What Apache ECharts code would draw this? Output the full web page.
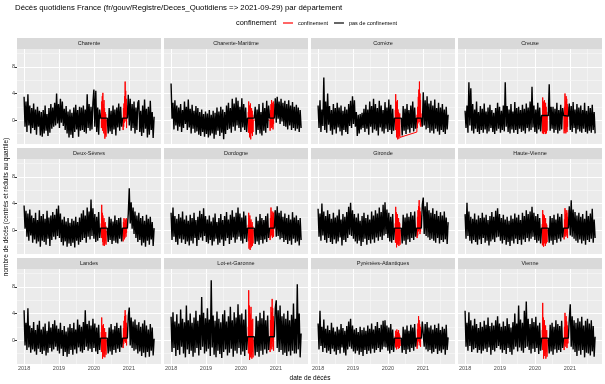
<!DOCTYPE html>
<html><head><meta charset="utf-8">
<script src="https://cdn.jsdelivr.net/npm/echarts@6/dist/echarts.min.js"></script>
<style>html,body{margin:0;padding:0;background:#fff}#c{width:605px;height:384px}</style>
</head><body><div id="c"></div>
<script>
const departments = ['Charente','Charente-Maritime','Corrèze','Creuse','Deux-Sèvres','Dordogne','Gironde','Haute-Vienne','Landes','Lot-et-Garonne','Pyrénées-Atlantiques','Vienne'];
const startDate = '2018-01-01';
const stepDays = 10;          // sampling step outside the lockdowns
const confStepDays = 3;       // sampling step inside the lockdowns
const nSteps = 137;
const confinementPeriods = [['2020-03-17','2020-05-11'],['2020-10-30','2020-12-15']];
const xLimits = ['2017-10-19','2021-12-03'];
const yearTicks = ['2018-01-01','2019-01-01','2020-01-01','2021-01-01'];
const yearMinor = ['2018-07-02','2019-07-02','2020-07-02','2021-07-02'];
const yLimits = [-3.6, 10.7];
const yMajor = [0,4,8];
const yMinor = [-2,2,6,10];

// ---- values outside the lockdowns (every 10 days, lockdown dates skipped) ----
const charente = [
3.5,-1.0,2.8,-1.8,3.9,-0.8,2.2,-2.0,1.8,-1.2,
2.5,-1.5,1.6,-2.2,2.0,-1.0,1.4,-2.3,1.2,-2.5,
1.5,-2.0,2.2,-1.6,0.9,-2.4,1.8,-1.9,2.4,-1.3,
1.9,-1.0,2.6,-0.8,4.0,-0.5,2.4,-1.2,3.2,-0.4,
2.8,-0.9,1.7,-1.5,2.1,-2.0,1.3,-2.6,1.6,-2.2,
1.1,-2.7,1.9,-1.8,2.3,-1.4,1.5,-2.5,2.0,-1.6,
1.9,-1.5,2.2,-1.8,1.6,-2.0,3.9,-1.2,2.4,-1.6,
2.0,-1.4,2.6,4.6,-1.0,4.4,-1.8,1.9,-2.2,1.6,
0.3,
0.3,-2.0,1.8,
-1.7,1.4,-2.1,2.2,-1.4,1.6,-2.3,1.9,-1.1,2.5,
-1.6,2.0,-1.0,0.3,
0.3,3.8,
-0.8,3.2,-1.6,2.4,-1.2,2.8,-2.0,1.9,-1.5,2.6,
3.0,-1.8,1.4,-2.4,2.2,-1.9,3.1,-1.3,1.7,-2.6,
2.0,-2.2,2.9,-1.5,1.2,-2.7,0.5];

const charenteMaritime = [
5.5,0.2,2.6,-1.4,3.0,-0.8,2.2,-1.6,1.9,-1.0,
2.4,-1.8,1.5,-1.2,2.8,-0.6,2.0,-1.5,3.1,-1.1,
1.7,-2.0,2.3,-1.3,1.4,-1.9,2.1,-1.7,1.8,-2.2,
1.2,-2.4,1.6,-1.8,0.9,-2.5,1.3,-2.1,1.0,-2.6,
1.5,-2.3,0.8,-2.0,1.4,-2.8,1.1,-2.2,1.9,-1.6,
1.3,-2.4,2.0,-1.9,1.6,-2.9,1.2,-2.1,2.2,-1.5,
2.6,-1.3,1.8,-1.9,3.2,-1.0,2.5,-1.6,3.4,-0.8,
2.9,-1.2,2.0,-1.8,3.3,-1.1,2.4,-1.5,1.9,-1.8,
0.3,
0.3,2.0,-2.2,
1.6,-1.5,2.4,-2.0,1.2,-2.3,2.6,-1.6,1.8,-1.9,
2.9,-1.2,2.2,0.3,
0.3,3.3,
-0.4,3.5,0.2,2.8,-0.6,3.2,-0.2,2.6,-0.9,2.9,
-1.0,2.4,-1.4,3.0,-0.8,2.2,-1.5,2.7,-1.2,2.0,
-1.6,2.3,-1.3,1.9,-1.8,1.5,-1.2];

const correze = [
2.2,-1.2,3.0,-1.8,1.6,-0.9,6.4,-1.5,2.8,-1.9,
4.0,-0.7,2.1,-1.6,1.5,-2.2,2.4,-1.4,1.8,-2.0,
2.6,-1.1,1.9,-1.7,2.2,-2.3,1.4,-1.5,2.0,-1.8,
1.6,-2.1,2.4,-0.9,2.9,-1.2,3.6,-0.6,3.0,-1.0,
1.2,-2.4,0.8,-2.0,0.9,-1.4,1.1,-1.2,1.7,-1.8,
2.3,-1.3,1.6,-2.2,2.8,-1.0,2.1,-1.9,3.2,-1.4,
2.4,-1.6,1.8,-2.3,2.9,-1.1,2.2,-1.7,1.5,-2.0,
2.7,-1.3,1.9,-1.8,3.1,-1.5,2.3,-2.1,1.7,-1.6,
0.3,
0.3,-2.3,2.1,
-1.6,1.7,-2.1,2.4,-1.4,1.5,-1.9,2.2,-1.2,2.8,
-1.7,1.9,-1.3,0.3,
0.3,-1.0,
4.2,-0.8,3.0,-1.4,3.6,-1.2,2.5,-1.9,2.9,-1.6,
2.2,-2.0,3.1,-1.3,1.8,-1.7,2.6,-2.2,1.9,-1.5,
2.4,-1.8,1.6,-2.1,2.0,-1.4,0.8];

const creuse = [
1.4,-1.2,2.2,-1.9,5.7,-0.8,4.8,-1.6,2.4,-2.0,
1.6,-1.3,2.8,-1.8,1.2,-2.1,2.1,-1.5,1.7,-1.9,
2.5,-1.4,1.3,-2.0,1.9,-1.7,2.3,-1.2,1.5,-1.8,
1.1,-2.1,1.8,-1.6,2.6,-1.3,2.0,-1.9,1.4,-1.5,
2.2,-1.7,5.7,-1.0,2.1,-1.8,1.6,-2.0,2.4,-1.4,
1.3,-1.9,2.7,-1.5,1.8,-2.1,2.0,-1.3,1.5,-1.8,
2.3,-1.6,1.7,-2.0,2.5,-1.2,1.9,-1.7,2.8,-1.5,
5.0,-1.1,2.2,-1.8,1.6,-2.0,2.6,-1.4,1.9,-1.7,
0.7,
0.7,5.4,-1.6,
2.0,-1.3,2.0,-1.9,1.7,-1.5,2.6,-2.0,1.5,-1.6,
2.3,-1.4,1.8,0.7,
0.6,2.5,
-1.5,2.1,-1.8,2.7,-1.2,1.6,-2.0,2.4,-1.4,1.9,
-1.7,2.2,-1.9,1.5,-1.3,2.6,-1.8,1.4,-2.0,2.1,
-1.6,1.8,-1.9,2.3,-1.5,1.2,-2.0];

const deuxSevres = [
3.7,0.2,2.9,-1.0,2.5,-1.6,3.1,-0.8,2.2,-1.9,
1.8,-1.4,2.6,-2.0,1.5,-1.7,3.0,-2.5,2.1,-1.6,
2.4,-1.8,1.7,-2.2,2.9,-1.3,1.9,-2.4,2.2,-1.5,
2.7,-1.0,2.3,-1.4,3.2,-0.9,3.7,-1.2,2.5,-1.8,
1.6,-2.3,2.0,-1.7,1.3,-2.5,1.8,-2.0,1.1,-2.4,
1.7,-1.9,1.4,-2.6,2.0,-1.6,1.2,-2.2,1.9,-1.8,
2.5,-1.5,3.0,-1.2,2.2,-1.9,3.4,-1.0,2.8,-1.4,
4.6,-0.9,3.3,-1.3,2.4,-1.8,2.0,-1.6,2.7,-1.2,
0.3,
0.3,-1.8,2.0,
-1.5,1.7,-2.1,1.3,-1.6,2.2,-1.9,1.5,-2.0,1.8,
-1.3,1.9,-1.7,0.3,
0.3,2.5,
6.3,1.0,4.2,0.2,3.4,-0.6,2.8,-1.2,2.2,-1.8,
2.6,-1.5,1.8,-2.3,2.1,-1.9,1.4,-2.5,2.3,-1.6,
1.7,-2.2,2.0,-1.4,1.2,-2.4,0.3];

const dordogne = [
2.6,-1.5,3.4,-1.0,2.1,-1.8,1.7,-2.2,2.4,-1.3,
1.9,-1.9,2.8,-1.4,1.6,-2.1,2.2,-1.7,1.4,-2.3,
2.3,-1.6,1.8,-2.0,2.6,-1.2,1.5,-2.4,2.0,-1.5,
2.9,-1.1,2.4,-1.6,3.3,-0.9,2.1,-1.8,1.6,-2.0,
2.2,-1.5,1.3,-2.3,1.9,-1.7,2.5,-1.3,1.2,-2.2,
1.8,-1.9,2.4,-1.4,1.5,-2.4,2.1,-1.6,2.7,-1.2,
1.6,-2.1,2.3,-1.5,3.0,-1.1,2.0,-1.9,2.6,-1.4,
3.4,-1.0,2.5,-1.6,1.9,-2.0,2.8,-1.3,2.2,-1.8,
0.3,
0.3,-2.1,2.0,
-1.7,1.4,-2.2,2.4,-1.5,1.8,-2.0,1.5,-1.4,2.1,
-1.8,2.5,-1.2,0.3,
0.3,3.0,
-1.0,3.6,-0.9,2.6,-1.4,2.9,-1.2,2.0,-1.8,2.5,
-1.5,1.8,-2.1,2.3,-1.6,1.6,-2.2,2.7,-1.3,1.9,
-1.9,2.2,-1.7,1.5,-2.3,1.8,-1.5];

const gironde = [
3.2,-1.0,2.5,-1.6,4.0,-0.8,2.8,-1.5,2.1,-1.9,
3.0,-1.2,2.4,-1.8,1.7,-2.1,2.6,-1.4,1.9,-2.0,
2.2,-1.7,3.1,-1.1,1.6,-2.3,2.4,-1.5,2.0,-1.8,
2.7,-1.2,3.5,-0.7,4.1,-0.9,3.0,-1.3,2.4,-1.7,
1.9,-2.0,2.5,-1.6,1.4,-2.4,2.1,-1.8,2.6,-1.3,
1.8,-2.2,2.3,-1.5,1.6,-2.0,2.8,-1.4,2.2,-1.9,
3.0,-1.1,2.5,-1.6,3.4,-1.0,2.7,-1.5,3.8,-0.8,
4.2,-0.6,3.1,-1.2,2.6,-1.7,2.0,-1.9,2.4,-1.5,
0.3,
0.3,-2.0,2.3,
-1.6,1.9,-2.2,2.5,-1.4,2.0,-1.8,2.7,-1.2,2.2,
-1.5,2.8,-1.0,0.3,
0.3,3.8,
4.9,-0.6,3.6,-0.9,4.2,-1.1,3.0,-1.5,2.6,-1.3,
3.3,-1.6,2.4,-1.9,2.9,-1.2,2.1,-2.0,2.7,-1.5,
2.2,-1.8,2.8,-1.4,1.9,-2.1,1.2];

const hauteVienne = [
2.4,-1.3,4.1,-0.9,2.8,-1.6,2.0,-2.0,1.7,-1.5,
2.5,-1.8,1.6,-2.2,2.2,-1.4,1.8,-2.1,2.6,-1.2,
1.9,-1.9,2.3,-1.6,1.5,-2.3,2.1,-1.7,2.7,-1.4,
2.0,-1.8,2.9,-1.1,3.3,-1.0,2.4,-1.6,1.8,-2.0,
2.3,-1.5,1.6,-2.2,2.0,-1.8,1.4,-2.4,2.2,-1.6,
1.7,-2.0,2.5,-1.3,1.9,-2.1,2.3,-1.5,1.5,-2.2,
2.6,-1.4,2.1,-1.8,3.0,-1.2,2.4,-1.7,2.8,-1.3,
3.5,-1.0,2.6,-1.5,2.1,-1.9,2.4,-1.6,1.8,-2.0,
0.3,
0.3,-1.9,2.1,
-1.6,1.8,-2.2,2.3,-1.5,1.6,-1.9,2.5,-1.3,2.0,
-1.7,2.4,-1.1,0.3,
0.3,3.6,
-0.8,4.5,-1.0,3.1,-1.3,2.7,-1.6,2.2,-1.9,2.6,
-1.4,2.0,-2.0,2.4,-1.6,1.7,-2.2,2.9,-1.5,2.1,
-1.8,2.5,-1.3,3.2,-1.9,1.6,-1.2];

const landes = [
4.5,-0.8,2.6,-1.5,4.8,-1.1,2.2,-1.9,1.8,-1.4,
2.7,-1.7,1.5,-2.2,2.3,-1.3,2.9,-1.8,1.6,-2.1,
2.0,-1.6,2.5,-2.3,1.4,-1.9,2.8,-1.2,1.9,-1.7,
2.4,-1.4,3.0,-1.0,2.2,-1.6,1.7,-2.0,2.6,-1.3,
1.5,-2.4,2.1,-1.8,1.3,-2.5,1.9,-2.1,2.4,-1.5,
1.8,-2.2,2.6,-1.4,1.6,-2.0,3.1,-1.1,2.3,-1.7,
2.0,-1.9,2.7,-1.5,4.5,-1.0,2.4,-1.6,2.9,-1.3,
2.2,-1.8,3.2,-1.2,2.5,-1.7,1.9,-2.1,2.3,-1.5,
0.3,
0.3,-2.0,1.9,
-1.7,2.4,-2.2,1.6,-1.5,2.1,-1.9,2.6,-1.3,1.8,
-1.8,2.2,-1.1,0.3,
0.3,3.6,
4.9,-0.8,3.4,-1.2,2.8,-1.6,3.1,-1.4,2.3,-2.0,
2.7,-1.7,2.0,-2.4,2.5,-1.9,3.0,-2.6,2.2,-1.8,
1.6,-2.5,2.4,-1.6,1.9,-2.3,0.2];

const lotEtGaronne = [
3.5,-1.8,4.2,-1.2,2.8,-2.4,3.9,-1.5,2.5,-2.2,
4.6,-1.0,3.2,-2.0,2.7,-2.6,5.2,-1.4,3.0,-2.1,
4.0,-1.6,2.6,-2.5,3.4,-1.9,4.4,-1.2,2.9,-2.3,
3.8,-1.5,6.5,-1.0,4.1,-2.0,3.3,-1.7,4.8,-1.3,
3.1,-2.4,9.0,-1.1,3.7,-2.2,2.9,-2.6,4.3,-1.6,
3.2,-2.1,2.7,-2.7,3.9,-1.8,4.5,-1.4,2.8,-2.3,
3.6,-1.9,5.0,-1.3,3.0,-2.5,4.2,-1.6,3.4,-2.0,
5.4,-1.2,3.8,-2.2,4.0,-1.7,3.1,-2.4,4.6,-1.5,
0.5,
0.5,-2.3,3.6,
-1.8,2.9,-2.5,4.1,-1.6,3.3,-2.2,4.4,-1.4,3.0,
-2.0,3.7,-1.5,0.5,
0.5,4.8,
6.0,-1.2,4.5,-1.8,5.2,-1.5,3.6,-2.2,4.0,-1.9,
3.2,-2.4,4.4,-1.7,3.0,-2.3,3.8,-1.6,5.5,-2.0,
3.2,-2.0,8.4,-1.4,4.0,-2.6,1.0];

const pyreneesAtlantiques = [
2.5,-1.4,4.4,-0.9,2.0,-1.8,3.1,-1.2,1.7,-1.9,
2.2,-1.6,1.5,-2.1,2.6,-1.3,1.9,-1.7,1.3,-2.2,
2.0,-1.5,1.6,-2.0,2.4,-1.1,1.8,-1.9,1.4,-2.3,
2.1,-1.4,2.8,-1.0,3.2,-1.3,2.2,-1.7,1.6,-2.0,
1.8,-1.6,1.2,-2.2,2.0,-1.8,1.5,-2.4,1.9,-1.5,
1.4,-2.1,2.2,-1.6,1.7,-2.0,2.5,-1.3,1.6,-1.9,
2.1,-1.5,2.7,-1.2,1.8,-1.8,2.3,-1.4,2.9,-1.0,
3.0,-1.1,2.2,-1.6,1.9,-2.0,2.4,-1.5,1.6,-1.8,
0.3,
0.3,-1.9,2.0,
-1.5,1.6,-2.1,2.2,-1.4,1.4,-1.8,2.3,-1.2,1.9,
-1.6,2.4,-1.0,0.3,
0.3,2.8,
3.1,-1.0,2.4,-1.4,2.7,-1.7,1.9,-1.5,2.2,-2.0,
1.6,-1.8,2.3,-1.3,1.8,-2.1,2.5,-1.6,1.5,-1.9,
2.0,-1.4,1.7,-2.2,2.3,-1.5,0.4];

const vienne = [
4.4,-1.0,2.6,-1.6,4.2,-0.9,3.0,-1.8,2.2,-1.4,
3.2,-1.2,2.4,-1.9,1.8,-1.5,2.7,-2.0,2.0,-1.6,
2.9,-1.3,2.3,-1.8,3.4,-1.1,2.1,-2.2,2.6,-1.5,
2.2,-1.7,3.0,-1.2,3.6,-0.9,2.5,-1.4,2.0,-1.9,
2.8,-1.5,2.1,-2.1,3.3,-1.2,2.4,-1.8,1.9,-2.2,
2.7,-1.4,4.0,-1.0,2.5,-1.7,5.2,-1.1,3.1,-1.6,
2.6,-1.9,4.4,-1.2,5.8,-1.0,3.2,-1.5,2.4,-2.0,
3.3,-1.3,2.7,-1.8,3.5,-1.2,2.2,-2.1,2.6,-1.6,
0.3,
0.3,-2.0,2.3,
-1.7,2.6,-2.2,2.0,-1.4,3.0,-1.9,2.4,-1.5,2.1,
-1.8,2.9,-1.2,0.3,
0.3,3.2,
5.4,-1.0,3.6,-1.4,3.0,-1.8,2.6,-2.4,3.3,-1.6,
2.8,-2.2,3.5,-1.5,2.2,-2.6,2.9,-1.9,3.2,-2.0,
2.5,-2.3,3.0,-1.7,2.1,-2.5,0.5];

// ---- values during the lockdowns (every 3 days: 19 in spring 2020, then 16 in autumn 2020) ----
const charenteConf = [
1.0,-1.2,2.8,-0.5,3.6,-1.6,4.1,-0.8,2.4,-2.0,3.0,-1.4,1.8,-2.8,1.2,-2.2,0.9,-2.5,0.0,
0.0,-1.5,1.8,-1.0,2.5,-0.4,3.6,0.2,5.8,0.8,4.4,-0.2,3.2,-1.2,2.2,1.5];
const charenteMaritimeConf = [
1.2,-1.9,2.8,-1.0,2.2,-2.6,1.6,-1.4,2.5,-2.9,1.0,-2.0,1.8,-1.3,1.4,-2.4,0.8,-1.8,0.0,
0.0,-1.6,1.5,-0.8,2.4,-1.2,3.0,-0.4,2.6,-1.0,2.2,-1.4,2.8,-0.6,2.0,2.4];
const correzeConf = [
1.5,-1.5,3.9,-0.8,2.8,-2.6,2.2,-1.2,3.0,-2.9,1.6,-2.0,1.2,-2.8,0.8,-2.4,1.0,-2.6,-2.8,
-1.8,0.8,-1.2,2.0,-0.5,3.5,0.2,4.6,-0.3,5.8,0.6,4.0,-0.8,3.0,-1.0,1.0];
const creuseConf = [
0.7,-2.0,3.4,-1.5,2.8,-2.1,2.2,-1.0,3.0,-1.8,1.5,-2.1,2.6,-1.4,2.0,-2.0,1.2,-1.6,0.7,
0.7,-2.0,2.0,-1.6,4.0,-1.2,2.8,-2.0,3.6,-1.4,3.2,-1.8,2.4,-1.0,2.0,0.6];
const deuxSevresConf = [
1.0,-1.2,3.8,-0.6,2.6,-1.8,2.2,-2.3,1.4,-1.5,1.8,-2.4,1.0,-2.0,1.2,-1.6,0.6,-2.2,-0.2,
0.0,-1.7,1.2,-1.0,1.8,-1.4,1.0,-1.2,1.6,-0.6,1.4,-1.0,1.8,-0.4,1.2,1.6];
const dordogneConf = [
0.8,-1.6,2.6,-2.8,1.8,-1.2,2.2,-3.0,1.3,-2.2,1.6,-2.6,0.8,-1.8,1.2,-2.4,0.6,-2.0,0.0,
0.0,-1.5,1.8,-1.0,3.4,-0.8,2.2,-0.4,2.8,-1.2,2.0,-0.6,2.6,-1.0,1.8,2.8];
const girondeConf = [
1.0,-1.9,3.5,-1.0,2.7,-2.6,2.0,-1.4,2.4,-2.2,1.6,-2.0,1.8,-2.4,1.2,-1.6,1.0,-2.2,0.0,
0.0,-1.2,2.0,-0.8,3.0,-0.2,3.6,0.4,4.5,0.0,3.4,-0.6,2.8,-0.2,2.2,0.8];
const hauteVienneConf = [
0.9,-2.3,3.0,-1.2,2.4,-2.5,1.7,-1.6,2.2,-2.0,1.4,-2.4,1.8,-1.5,1.0,-2.0,0.8,-1.8,0.0,
0.0,-1.4,1.6,-0.9,3.3,-0.6,2.4,-1.0,3.0,-0.4,2.6,-0.8,2.0,-1.2,2.4,3.0];
const landesConf = [
1.2,-1.8,3.4,-1.0,2.2,-2.8,1.6,-1.4,2.4,-2.5,1.0,-2.0,1.8,-2.6,0.8,-1.6,1.2,-2.2,0.0,
0.0,-1.2,1.8,-0.6,2.9,-0.2,3.6,0.2,4.5,-0.4,3.8,0.0,2.6,-0.8,2.0,1.5];
const lotEtGaronneConf = [
2.0,-2.0,7.5,-1.0,5.2,-3.0,4.0,-1.6,3.8,-2.6,5.0,-2.2,3.0,-2.8,2.4,-1.8,3.2,-2.6,0.0,
0.0,-1.8,3.0,-1.2,5.0,-0.6,4.2,-1.4,6.2,-0.2,4.8,-1.0,3.6,-1.6,2.8,2.0];
const pyreneesAtlantiquesConf = [
0.6,-1.1,1.4,-0.6,0.9,-1.4,1.6,-0.8,1.2,-1.0,0.8,-1.3,1.5,-0.6,1.0,-1.2,0.7,-0.9,0.0,
0.0,-1.3,1.6,-0.8,2.5,-0.2,3.6,0.4,3.0,-0.4,2.4,-0.8,2.0,-1.0,1.6,1.0];
const vienneConf = [
1.5,-1.5,5.6,-0.8,3.4,-2.8,2.6,-1.6,3.0,-2.4,1.8,-2.0,2.2,-2.8,1.2,-1.8,1.5,-2.5,0.0,
0.0,-1.5,2.0,-0.8,4.1,-0.4,3.0,-1.0,3.6,-0.5,2.8,-1.2,2.2,-0.5,1.6,-0.5];

const valuesByDept = [charente, charenteMaritime, correze, creuse, deuxSevres, dordogne, gironde, hauteVienne, landes, lotEtGaronne, pyreneesAtlantiques, vienne];
const confValuesByDept = [charenteConf, charenteMaritimeConf, correzeConf, creuseConf, deuxSevresConf, dordogneConf, girondeConf, hauteVienneConf, landesConf, lotEtGaronneConf, pyreneesAtlantiquesConf, vienneConf];

const DAY = 86400000;
const t0 = Date.parse(startDate);
const conf = confinementPeriods.map(p => [Date.parse(p[0]), Date.parse(p[1])]);
const inConf = t => conf.some(([a, b]) => t >= a && t <= b);
const normalDates = [];
for (let i = 0; i < nSteps; i++) { const t = t0 + i * stepDays * DAY; if (!inConf(t)) normalDates.push(t); }
const confDates = [];
conf.forEach(([a, b]) => { for (let t = a; t <= b; t += confStepDays * DAY) confDates.push(t); });

const yearTs = yearTicks.map(d => Date.parse(d));
const yearMinorTs = yearMinor.map(d => Date.parse(d));
const xMin = Date.parse(xLimits[0]), xMax = Date.parse(xLimits[1]);

const FONT = "'Liberation Sans', Arial, sans-serif";
const colLeft = [17, 164, 311, 458], rowTop = [49, 159, 269], GW = 144, GH = 95, STRIP = 11;
const LW = 1.4;

const grids = [], xAxes = [], yAxes = [], series = [], graphics = [];
const gridLines = [
  ...yearTs.map(v => ({ xAxis: v, lineStyle: { color: '#FFFFFF', width: 1, type: 'solid' } })),
  ...yearMinorTs.map(v => ({ xAxis: v, lineStyle: { color: '#F7F7F7', width: 0.7, type: 'solid' } })),
  ...yMajor.map(v => ({ yAxis: v, lineStyle: { color: '#FFFFFF', width: 1, type: 'solid' } })),
  ...yMinor.map(v => ({ yAxis: v, lineStyle: { color: '#F7F7F7', width: 0.7, type: 'solid' } }))
];

let bad = [];
departments.forEach((name, k) => {
  const r = Math.floor(k / 4), c = k % 4;
  const left = colLeft[c], top = rowTop[r];
  const vals = valuesByDept[k], cvals = confValuesByDept[k];
  if (vals.length !== normalDates.length) bad.push(name + ':' + vals.length + '/' + normalDates.length);
  if (cvals.length !== confDates.length) bad.push(name + 'C:' + cvals.length + '/' + confDates.length);
  grids.push({ left, top, width: GW, height: GH, show: true, backgroundColor: '#EBEBEB', borderWidth: 0, containLabel: false });
  xAxes.push({
    gridIndex: k, type: 'value', min: xMin, max: xMax,
    axisLine: { show: false }, splitLine: { show: false },
    axisTick: { show: r === 2, customValues: yearTs, length: 2.5, lineStyle: { color: '#333333', width: 1 } },
    axisLabel: { show: r === 2, customValues: yearTs, formatter: v => String(new Date(v).getUTCFullYear()), fontSize: 5.5, color: '#4D4D4D', margin: 1.5, fontFamily: FONT }
  });
  yAxes.push({
    gridIndex: k, type: 'value', min: yLimits[0], max: yLimits[1],
    axisLine: { show: false }, splitLine: { show: false },
    axisTick: { show: c === 0, customValues: yMajor, length: 2.5, lineStyle: { color: '#333333', width: 1 } },
    axisLabel: { show: c === 0, customValues: yMajor, fontSize: 5.5, color: '#4D4D4D', margin: 2, fontFamily: FONT }
  });
  const black = normalDates.map((t, i) => [t, vals[i]]);
  const red = confDates.map((t, i) => [t, cvals[i]]);
  series.push({
    type: 'line', name: 'confinement', xAxisIndex: k, yAxisIndex: k, data: red,
    showSymbol: false, symbol: 'none', animation: false, z: 2,
    lineStyle: { color: '#FF0000', width: 1 }, itemStyle: { color: '#FF0000' }
  });
  series.push({
    type: 'line', name: 'pas de confinement', xAxisIndex: k, yAxisIndex: k, data: black,
    showSymbol: false, symbol: 'none', animation: false, z: 3,
    lineStyle: { color: '#000000', width: LW }, itemStyle: { color: '#000000' },
    markLine: { silent: true, z: 1, symbol: ['none', 'none'], label: { show: false }, animation: false, emphasis: { disabled: true }, data: gridLines }
  });
  graphics.push({ type: 'rect', shape: { x: left, y: top - STRIP, width: GW, height: STRIP }, style: { fill: '#D9D9D9' }, silent: true });
  graphics.push({ type: 'text', x: left + GW / 2, y: top - STRIP / 2, style: { text: name, fill: '#1A1A1A', fontSize: 5.5, fontFamily: FONT, align: 'center', verticalAlign: 'middle' }, silent: true });
});

graphics.push({ type: 'text', x: 236, y: 23, style: { text: 'confinement', fill: '#000000', fontSize: 7.4, fontFamily: FONT, align: 'left', verticalAlign: 'middle' }, silent: true });
graphics.push({ type: 'text', x: 6, y: 207, rotation: Math.PI / 2, style: { text: 'nombre de décès (centrés et réduits au quartile)', fill: '#000000', fontSize: 6.5, fontFamily: FONT, align: 'center', verticalAlign: 'middle' }, silent: true });
graphics.push({ type: 'text', x: 310, y: 378, style: { text: 'date de décès', fill: '#000000', fontSize: 6.5, fontFamily: FONT, align: 'center', verticalAlign: 'middle' }, silent: true });
if (bad.length) graphics.push({ type: 'text', x: 380, y: 8, style: { text: 'LEN ' + bad.join(' '), fill: '#00f', fontSize: 7 } });

const chart = echarts.init(document.getElementById('c'), null, { renderer: 'canvas' });
chart.setOption({
  animation: false,
  backgroundColor: '#FFFFFF',
  textStyle: { fontFamily: FONT },
  title: { text: 'Décès quotidiens France (fr/gouv/Registre/Deces_Quotidiens => 2021-09-29) par département', left: 15, top: 4, padding: 0, textStyle: { fontSize: 7.8, fontWeight: 'normal', color: '#000000', fontFamily: FONT } },
  legend: {
    data: ['confinement', 'pas de confinement'], left: 283, top: 20, itemWidth: 10, itemHeight: 1.2, icon: 'rect',
    itemGap: 6, padding: 0, selectedMode: false, textStyle: { fontSize: 5.5, color: '#000000', fontFamily: FONT }
  },
  grid: grids, xAxis: xAxes, yAxis: yAxes, series: series, graphic: graphics
});
</script></body></html>
